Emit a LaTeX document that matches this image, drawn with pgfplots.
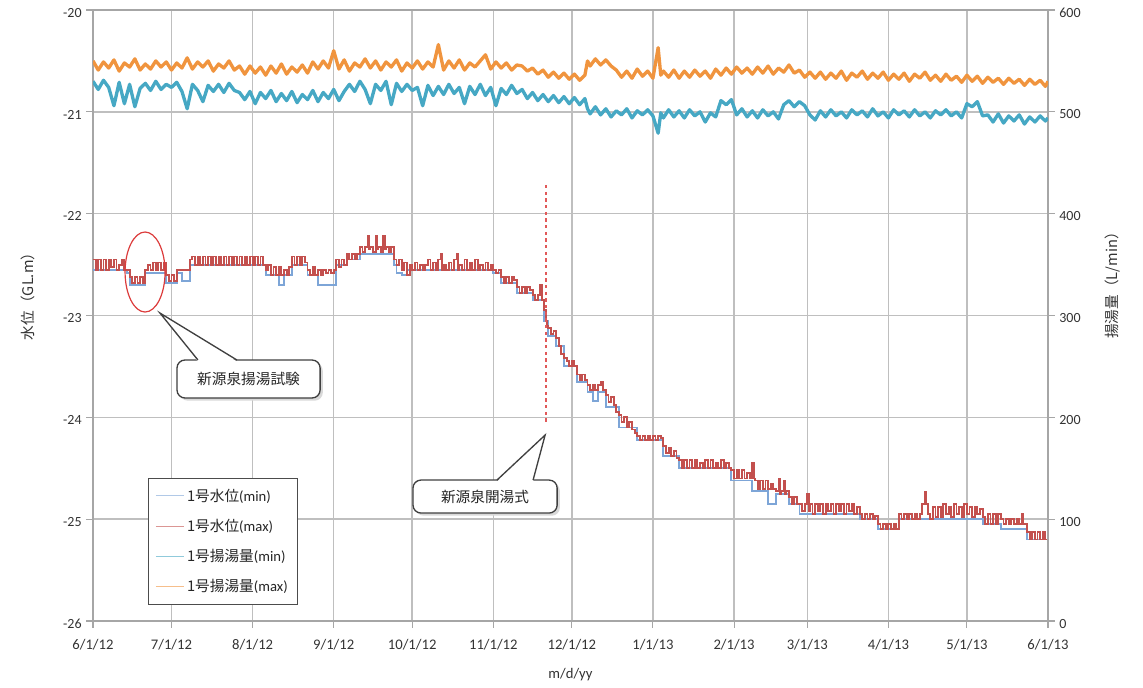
\documentclass[border=0pt]{standalone}
\usepackage{pgfplots}
\usepackage{pgfplotstable}
\pgfplotsset{compat=1.18}
\usepackage{fontspec}
\setmainfont{Carlito}
\newfontfamily\jp{Noto Sans CJK JP}
\definecolor{wminc}{RGB}{125,165,215}
\definecolor{wmaxc}{RGB}{195,80,78}
\definecolor{pminc}{RGB}{70,168,196}
\definecolor{pmaxc}{RGB}{240,148,62}
\definecolor{ellc}{RGB}{220,60,60}

\pgfplotstableread{
x y
0 -22.45
1 -22.55
2 -22.45
3 -22.55
4 -22.45
5 -22.55
6 -22.45
7 -22.52
8 -22.45
9 -22.55
10 -22.5
11 -22.45
12 -22.55
13 -22.55
14 -22.62
15 -22.68
16 -22.62
17 -22.68
18 -22.62
19 -22.68
20 -22.55
21 -22.5
22 -22.55
23 -22.48
24 -22.55
25 -22.48
26 -22.55
27 -22.48
28 -22.6
29 -22.66
30 -22.6
31 -22.66
32 -22.55
34 -22.55
36 -22.55
37 -22.45
38 -22.42
39 -22.5
40 -22.42
41 -22.5
42 -22.42
43 -22.5
44 -22.42
45 -22.5
46 -22.42
47 -22.5
48 -22.42
49 -22.5
50 -22.42
51 -22.5
52 -22.42
53 -22.5
54 -22.42
55 -22.5
56 -22.42
57 -22.5
58 -22.42
59 -22.5
60 -22.42
61 -22.5
62 -22.42
63 -22.5
64 -22.42
65 -22.5
66 -22.55
67 -22.5
68 -22.6
69 -22.52
70 -22.6
71 -22.52
72 -22.6
73 -22.55
74 -22.6
75 -22.52
76 -22.42
77 -22.5
78 -22.42
79 -22.5
80 -22.42
81 -22.48
82 -22.55
83 -22.6
84 -22.52
85 -22.6
86 -22.55
87 -22.6
88 -22.55
89 -22.58
90 -22.55
91 -22.58
92 -22.55
93 -22.45
94 -22.52
95 -22.45
96 -22.5
97 -22.4
98 -22.45
99 -22.4
100 -22.45
101 -22.4
102 -22.33
103 -22.38
104 -22.33
105 -22.22
105.5 -22.35
106 -22.33
107 -22.38
108 -22.22
108.5 -22.35
109 -22.33
110 -22.38
111 -22.22
111.5 -22.35
112 -22.33
113 -22.38
114 -22.33
115 -22.45
116 -22.5
117 -22.45
118 -22.55
119 -22.48
120 -22.6
121 -22.5
122 -22.55
123 -22.48
124 -22.55
125 -22.5
126 -22.55
127 -22.5
128 -22.45
129 -22.55
130 -22.48
131 -22.55
132 -22.45
133 -22.4
133.5 -22.55
134 -22.5
135 -22.55
136 -22.48
137 -22.55
138 -22.45
139 -22.4
139.5 -22.55
140 -22.5
141 -22.55
142 -22.45
143 -22.55
144 -22.48
145 -22.55
146 -22.45
147 -22.55
148 -22.5
149 -22.55
150 -22.48
151 -22.55
152 -22.5
153 -22.55
154 -22.58
155 -22.55
156 -22.62
157 -22.68
158 -22.62
159 -22.68
160 -22.62
161 -22.65
162 -22.72
163 -22.78
164 -22.72
165 -22.78
166 -22.72
167 -22.75
168 -22.8
169 -22.85
170 -22.8
171 -22.7
171.5 -22.85
172 -22.85
172.5 -22.95
173 -23.05
173.5 -23.1
174 -23.12
175 -23.18
176 -23.15
177 -23.22
178 -23.3
179 -23.38
180 -23.42
181 -23.45
182 -23.5
183 -23.45
184 -23.5
185 -23.58
186 -23.63
187 -23.58
188 -23.63
189 -23.68
190 -23.73
191 -23.68
192 -23.73
193 -23.68
194 -23.65
195 -23.73
196 -23.78
197 -23.85
198 -23.8
199 -23.88
200 -23.95
201 -23.98
202 -24.05
203 -24.0
204 -24.1
205 -24.05
206 -24.12
207 -24.15
208 -24.18
209 -24.22
210 -24.18
211 -24.22
212 -24.18
213 -24.22
214 -24.18
215 -24.22
216 -24.18
217 -24.2
218 -24.28
219 -24.35
220 -24.3
221 -24.38
222 -24.33
223 -24.4
224 -24.42
225 -24.5
226 -24.42
227 -24.5
228 -24.42
229 -24.5
230 -24.42
231 -24.5
232 -24.45
233 -24.5
234 -24.42
235 -24.5
236 -24.42
237 -24.5
238 -24.45
239 -24.5
240 -24.42
241 -24.5
242 -24.45
243 -24.5
244 -24.52
245 -24.6
246 -24.52
247 -24.6
248 -24.52
249 -24.6
250 -24.55
251 -24.6
252 -24.45
252.5 -24.6
253 -24.62
254 -24.7
255 -24.62
256 -24.7
257 -24.62
258 -24.7
259 -24.65
260 -24.7
261 -24.72
262 -24.6
262.5 -24.75
263 -24.72
264 -24.62
264.5 -24.75
265 -24.72
266 -24.78
267 -24.85
268 -24.78
269 -24.85
270 -24.85
271 -24.92
272 -24.85
273 -24.75
273.5 -24.92
274 -24.85
275 -24.95
276 -24.85
277 -24.92
278 -24.85
279 -24.95
280 -24.85
281 -24.92
282 -24.85
283 -24.95
284 -24.85
285 -24.92
286 -24.85
287 -24.95
288 -24.85
289 -24.92
290 -24.85
291 -24.95
292 -24.88
293 -24.95
294 -25.0
295 -24.95
296 -25.0
297 -24.95
298 -25.0
299 -24.97
300 -25.05
301 -25.1
302 -25.05
303 -25.1
304 -25.05
305 -25.1
306 -25.05
307 -25.1
308 -24.95
309 -25.0
310 -24.95
311 -25.0
312 -24.95
313 -25.0
314 -24.95
315 -25.0
316 -24.95
317 -24.85
318 -24.73
318.5 -24.85
319 -24.95
320 -25.0
321 -24.88
322 -24.98
323 -24.88
324 -24.98
325 -24.85
326 -24.95
327 -24.88
328 -24.98
329 -24.85
330 -24.95
331 -24.88
332 -24.98
333 -24.85
334 -24.95
335 -24.88
336 -24.98
337 -24.88
338 -24.95
339 -24.9
340 -24.98
341 -25.05
342 -24.95
343 -25.05
344 -24.95
345 -25.05
346 -24.95
347 -25.0
348 -25.05
349 -25.0
350 -25.05
351 -25.0
352 -25.05
353 -25.0
354 -25.05
355 -24.95
355.5 -25.05
356 -25.05
357 -25.13
358 -25.2
359 -25.13
360 -25.2
361 -25.13
362 -25.2
363 -25.13
364 -25.2
365 -25.15
}\wmax

\pgfplotstableread{
x y
0 -22.55
13 -22.58
14 -22.7
20 -22.58
28 -22.68
32 -22.58
34 -22.66
37 -22.5
66 -22.6
71 -22.7
73 -22.6
76 -22.5
82 -22.6
86 -22.7
93 -22.5
97 -22.45
102 -22.4
115 -22.5
116 -22.58
118 -22.6
120 -22.55
153 -22.58
156 -22.68
162 -22.78
168 -22.85
172.5 -23.05
174 -23.2
177 -23.3
180 -23.5
185 -23.65
189 -23.75
191 -23.84
193 -23.75
196 -23.9
201 -24.1
208 -24.22
218 -24.38
224 -24.5
244 -24.62
252 -24.72
258 -24.85
261 -24.75
266 -24.85
270 -24.95
293 -25.0
300 -25.1
308 -25.0
321 -25.0
340 -25.05
347 -25.1
357 -25.2
365 -25.2
}\wmin

\pgfplotstableread{
x y
0 550
2 541
4 549
6 543
8 551
10 540
12 548
14 544
16 552
18 541
20 547
22 542
24 550
26 544
28 549
30 541
32 548
34 543
36 553
38 542
40 549
42 544
44 550
46 540
48 547
50 543
52 550
54 541
56 545
58 537
60 545
62 538
64 544
66 536
68 545
70 538
72 547
74 537
76 544
78 539
80 546
82 538
84 549
86 542
88 550
90 543
92 560
94 542
96 551
98 540
100 548
102 544
104 552
106 543
108 550
110 541
112 549
114 544
116 551
118 540
120 548
122 543
124 550
126 542
128 549
130 544
132 566
134 541
136 550
138 543
140 551
142 541
144 548
146 544
148 550
150 556
152 542
154 549
156 543
158 548
160 541
162 546
164 545
166 540
168 543
170 537
172 541
174 534
176 539
178 533
180 538
182 532
184 537
186 531
188 536
189 550
190 545
192 552
194 546
196 551
198 545
200 541
202 534
204 540
206 533
208 542
210 535
212 540
214 533
216 563
217 536
218 540
220 534
222 541
224 533
226 540
228 534
230 541
232 535
234 540
236 533
238 542
240 536
242 543
244 537
246 544
248 538
250 543
252 537
254 544
256 538
258 545
260 537
262 543
264 539
266 546
268 538
270 541
272 534
274 539
276 533
278 539
280 532
282 538
284 533
286 540
288 531
290 538
292 534
294 540
296 532
298 538
300 533
302 539
304 531
306 537
308 532
310 538
312 530
314 537
316 533
318 539
320 531
322 536
324 530
326 537
328 531
330 535
332 529
334 536
336 530
338 535
340 528
342 534
344 529
346 533
348 527
350 533
352 528
354 532
356 526
358 532
360 527
362 531
364 525
365 530
}\pmax

\pgfplotstableread{
x y
0 530
2 522
4 531
6 524
8 506
10 529
12 508
14 527
16 505
18 523
20 528
22 521
24 530
26 522
28 527
30 524
32 529
34 520
36 503
38 527
40 521
42 510
44 526
46 520
48 527
50 519
52 528
54 521
56 519
58 512
60 520
62 508
64 519
66 513
68 521
70 510
72 518
74 511
76 520
78 509
80 517
82 512
84 521
86 510
88 519
90 513
92 522
94 511
96 520
98 527
100 520
102 530
104 522
106 508
108 527
110 521
112 530
114 507
116 528
118 520
120 527
122 521
124 524
126 506
128 526
130 516
132 525
134 517
136 527
138 518
140 524
142 508
144 525
146 517
148 527
150 516
152 524
154 506
156 523
158 517
160 526
162 518
164 522
166 513
168 519
170 511
172 517
174 510
176 516
178 509
180 515
182 508
184 514
186 507
188 513
189 503
190 498
192 505
194 497
196 503
198 495
200 501
202 497
204 503
206 494
208 501
210 497
212 502
214 496
216 479
217 499
218 494
220 502
222 495
224 501
226 494
228 502
230 496
232 500
234 490
236 499
238 495
240 511
242 507
244 512
246 497
248 503
250 495
252 501
254 494
256 502
258 496
260 500
262 493
264 507
266 511
268 505
270 510
272 506
274 497
276 492
278 501
280 495
282 502
284 496
286 500
288 494
290 502
292 497
294 501
296 495
298 503
300 496
302 500
304 494
306 502
308 497
310 501
312 495
314 502
316 496
318 500
320 494
322 501
324 497
326 502
328 496
330 500
332 494
334 508
336 505
338 510
340 496
342 497
344 490
346 498
348 489
350 496
352 491
354 497
356 488
358 495
360 490
362 496
364 491
365 494
}\pmin

\pgfplotsset{
  wminst/.style={color=wminc, line width=1.4pt},
  wmaxst/.style={color=wmaxc, line width=1.4pt},
  pminst/.style={color=pminc, line width=2.5pt, line join=round},
  pmaxst/.style={color=pmaxc, line width=2.5pt, line join=round},
  common/.style={
    at={(69.75pt,49.5pt)}, anchor=south west,
    scale only axis, width=716.25pt, height=458.25pt,
    xmin=0, xmax=365,
    ticklabel style={font=\fontsize{10.5}{12}\selectfont, text=black!80},
    /pgf/number format/assume math mode=true,
    label style={font=\fontsize{11}{13}\selectfont, text=black!80},
    tick style={draw=black!35, line width=0.8pt},
    tick align=outside, major tick length=5pt,
  }
}

\begin{document}
\begin{tikzpicture}
\path[use as bounding box] (0,0) rectangle (857.25pt,515.25pt);
\begin{axis}[common,
  ymin=-26, ymax=-20,
  xtick={0,30,61,92,122,153,183,214,245,273,304,334,365},
  xticklabels={6/1/12,7/1/12,8/1/12,9/1/12,10/1/12,11/1/12,12/1/12,1/1/13,2/1/13,3/1/13,4/1/13,5/1/13,6/1/13},
  xticklabel style={font=\fontsize{11}{13}\selectfont, yshift=-5pt},
  yticklabel style={yshift=-2pt},
  ytick={-26,-25,-24,-23,-22,-21,-20},
  grid=major,
  major grid style={draw=black!25, line width=1.1pt},
  axis line style={draw=black!35, line width=1pt},
  xtick pos=bottom, ytick pos=left,
  xlabel={m/d/yy}, ylabel={\jp 水位（GL.m）},
  xlabel style={at={(axis description cs:0.5,-0.088)}, anchor=center},
  ylabel style={at={(axis description cs:-0.068,0.537)}, anchor=center},
]
\addplot[wminst, const plot] table[x=x,y=y] {\wmin};
\addplot[wmaxst, const plot] table[x=x,y=y] {\wmax};
\draw[ellc, line width=0.9pt] (axis cs:19.9,-22.573) ellipse [x radius=15pt, y radius=30pt];
\draw[ellc!85, line width=1.1pt, dash pattern=on 2.5pt off 2.5pt] (axis cs:173.2,-21.72) -- (axis cs:173.2,-24.075);
% callout 1
\fill[black!15, rounded corners=6pt] ([xshift=2pt,yshift=-2pt]axis cs:32.1,-23.437) rectangle ([xshift=2pt,yshift=-2pt]axis cs:86.8,-23.81);
\draw[black!75, line width=1pt, rounded corners=6pt, fill=white] (axis cs:32.1,-23.437) rectangle (axis cs:86.8,-23.81);
\fill[white] (axis cs:40.1,-23.452) -- (axis cs:25.6,-22.976) -- (axis cs:55.0,-23.452) -- cycle;
\draw[black!75, line width=1pt, line join=miter] (axis cs:40.1,-23.437) -- (axis cs:25.6,-22.976) -- (axis cs:55.0,-23.437);
\node[font=\jp\fontsize{11}{13}\selectfont, text=black!85] at (axis cs:59.45,-23.625) {新源泉揚湯試験};
% callout 2
\fill[black!15, rounded corners=6pt] ([xshift=2pt,yshift=-2pt]axis cs:122.3,-24.616) rectangle ([xshift=2pt,yshift=-2pt]axis cs:177.4,-24.94);
\draw[black!75, line width=1pt, rounded corners=6pt, fill=white] (axis cs:122.3,-24.616) rectangle (axis cs:177.4,-24.94);
\fill[white] (axis cs:154.4,-24.631) -- (axis cs:172.8,-24.174) -- (axis cs:168.2,-24.631) -- cycle;
\draw[black!75, line width=1pt, line join=miter] (axis cs:154.4,-24.616) -- (axis cs:172.8,-24.174) -- (axis cs:168.2,-24.616);
\node[font=\jp\fontsize{11}{13}\selectfont, text=black!85] at (axis cs:149.85,-24.78) {新源泉開湯式};
\end{axis}

\begin{axis}[common,
  ymin=0, ymax=600,
  axis x line=none, axis y line*=right,
  axis line style={draw=black!35, line width=1.2pt},
  ytick={0,100,200,300,400,500,600},
  yticklabel style={yshift=-2pt},
  ylabel={\jp 揚湯量（L/min）},
  ylabel style={at={(axis description cs:1.068,0.555)}, anchor=center},
  legend style={at={(0.0576,0.026)}, anchor=south west, draw=black!70, line width=0.8pt,
     fill=white, font=\fontsize{11}{13}\selectfont, text=black!85, row sep=8pt,
     inner xsep=5pt, inner ysep=6pt},
  legend cell align=left,
  legend image code/.code={\draw[#1, line width=0.9pt, draw opacity=0.6] (0pt,0pt) -- (21pt,0pt);},
]
\addlegendimage{wminst}
\addlegendentry{{\jp 1号水位}(min)}
\addlegendimage{wmaxst}
\addlegendentry{{\jp 1号水位}(max)}
\addplot[pminst] table[x=x,y=y] {\pmin};
\addlegendentry{{\jp 1号揚湯量}(min)}
\addplot[pmaxst] table[x=x,y=y] {\pmax};
\addlegendentry{{\jp 1号揚湯量}(max)}
\end{axis}
\end{tikzpicture}
\end{document}
